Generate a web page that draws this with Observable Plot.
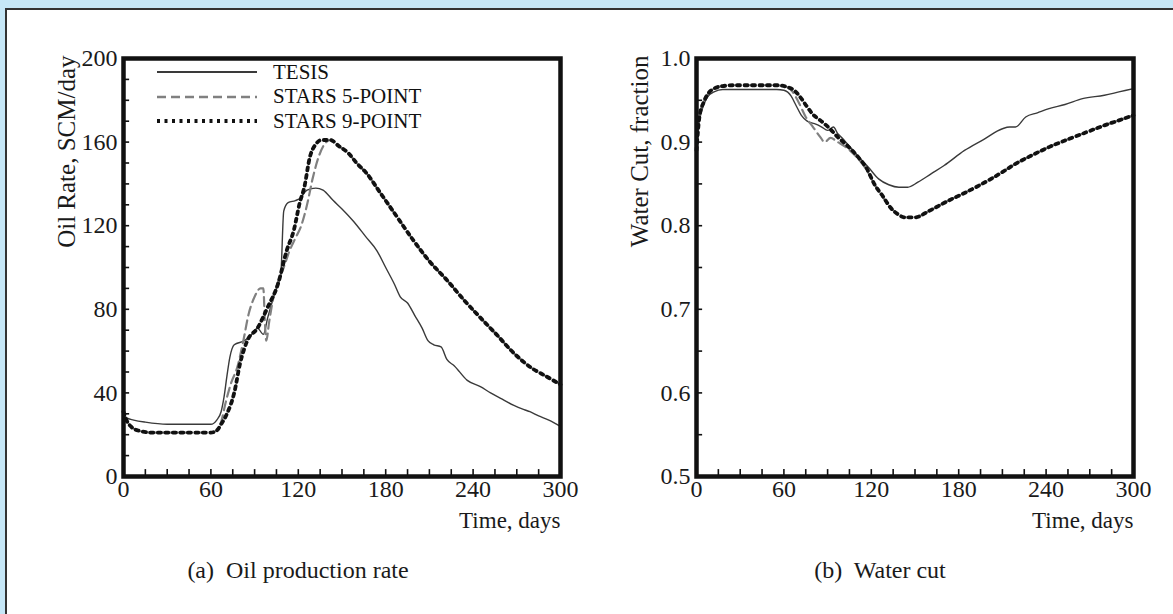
<!DOCTYPE html>
<html>
<head>
<meta charset="utf-8">
<script src="https://cdn.jsdelivr.net/npm/d3@7"></script>
<script src="https://cdn.jsdelivr.net/npm/@observablehq/plot@0.6"></script>
<style>
  html, body { margin: 0; padding: 0; background: #c6e7f7; }
  #page { position: relative; width: 1173px; height: 614px; overflow: hidden; background: #c6e7f7; }
  #box { position: absolute; left: 5px; top: 8px; width: 1200px; height: 640px; background: #fff;
         border-left: 2px solid #333; border-top: 2px solid #333; }
  .panel { position: absolute; top: 0; }
  .caption { position: absolute; font-family: "Liberation Serif", "DejaVu Serif", serif; font-size: 24px; color: #1a1a1a;
             transform: translateX(-50%); white-space: nowrap; }
  #legend { position: absolute; left: 157px; top: 60px; font-family: "Liberation Serif", serif; font-size: 21px; color: #111; }
  #legend .row { display: flex; align-items: center; height: 24.5px; }
  #legend svg { width: 100px; height: 12px; margin-right: 16px; }
</style>
</head>
<body>
<div id="page">
  <div id="box"></div>
  <div id="p1" class="panel" style="left:0px"></div>
  <div id="p2" class="panel" style="left:573px"></div>
  <div id="legend"></div>
  <div class="caption" style="left:298px; top:557px">(a)&nbsp; Oil production rate</div>
  <div class="caption" style="left:880px; top:557px">(b)&nbsp; Water cut</div>
</div>
<script>
// ---------- data ----------
const seriesNames = ["TESIS", "STARS 5-POINT", "STARS 9-POINT"];

// Oil rate (SCM/day) vs time (days)
const oilTesisT = [0,2,7,15,30,45,60,64,67,69,71,73,76,83,88,92,96,99,101,105,108,110,113,118,121,126,132,137,144,150,158,166,174,180,186,190,195,200,205,209,213,218,222,227,236,245,252,260,268,275,279,285,292,300];
const oilTesisV = [32,28,27,26,25,25,25,27,31,38,48,57,63,65,68,71,68,76,81,90,97,127,131,132,133,137,138,137,132,128,122,115,108,100,92,86,83,77,71,65,63,62,56,53,46,43,40,37,34,32,31,29,27,24];

const oil5T = [0,2,5,10,20,40,60,64,67,70,74,78,82,86,90,94,96,97,98,100,103,106,110,114,118,122,126,130,134,138,142,148,154,160,167,176,185,199,210,222,233,245,256,268,280,290,300];
const oil5V = [31,27,24,22,21,21,21,22,26,35,45,52,64,78,86,90,90,75,65,74,86,93,100,108,114,120,130,143,153,159,161,158,155,150,145,136,127,113,103,94,85,76,68,59,52,48,44];

const oil9T = [0,2,5,10,20,40,60,64,67,71,76,80,85,92,99,106,112,117,121,124,128,132,136,142,148,154,160,167,176,185,199,210,222,233,245,256,268,280,290,300];
const oil9V = [31,27,24,22,21,21,21,22,25,30,40,54,65,71,81,92,108,118,131,138,153,159,161,161,158,155,150,145,136,127,113,103,94,85,76,68,59,52,48,44];

// Water cut (fraction) vs time (days)
const wcTesisT = [0,2,5,8,12,18,25,40,55,60,65,68,72,76,81,86,90,94,97,100,104,110,118,125,132,139,145,152,161,170,184,197,210,215,219,226,234,242,253,265,280,290,300];
const wcTesisV = [0.895,0.925,0.945,0.955,0.96,0.963,0.963,0.963,0.963,0.962,0.955,0.945,0.932,0.925,0.922,0.918,0.914,0.918,0.91,0.905,0.897,0.885,0.87,0.856,0.849,0.846,0.846,0.852,0.862,0.872,0.89,0.903,0.916,0.918,0.918,0.93,0.935,0.94,0.945,0.952,0.956,0.96,0.964];

const wc5T = [0,2,5,8,12,18,25,40,55,62,66,70,75,80,85,88,92,97,104,111,117,122,128,133,138,143,150,160,173,185,196,208,219,230,242,253,265,280,290,300];
const wc5V = [0.89,0.93,0.948,0.958,0.964,0.967,0.968,0.968,0.968,0.966,0.96,0.948,0.93,0.918,0.906,0.9,0.905,0.9,0.892,0.88,0.866,0.85,0.834,0.822,0.814,0.81,0.81,0.818,0.83,0.84,0.85,0.862,0.874,0.884,0.894,0.902,0.91,0.92,0.926,0.932];

const wc9T = [0,2,5,8,12,18,25,40,55,62,67,72,76,80,85,91,97,104,111,117,122,128,133,138,143,150,160,173,185,196,208,219,230,242,253,265,280,290,300];
const wc9V = [0.89,0.93,0.948,0.958,0.964,0.967,0.968,0.968,0.968,0.966,0.962,0.952,0.942,0.933,0.926,0.917,0.906,0.895,0.882,0.868,0.85,0.835,0.822,0.814,0.81,0.81,0.818,0.83,0.84,0.85,0.862,0.874,0.884,0.894,0.902,0.91,0.92,0.926,0.932];

// ticks
const xLabelTicks = [0,60,120,180,240,300];
const xMinorTicks = d3.range(15, 300, 15);
const oilLabelTicks = [0,40,80,120,160,200];
const oilMinorTicks = d3.range(10, 200, 10);
const wcLabelTicks = [0.5,0.6,0.7,0.8,0.9,1.0];
const wcMinorTicks = [0.55,0.6,0.65,0.7,0.75,0.8,0.85,0.9,0.95];

// ---------- styles ----------
const styles = {
  "TESIS": {stroke: "#3a3a3a", strokeWidth: 1.4},
  "STARS 5-POINT": {stroke: "#808080", strokeWidth: 2.2, strokeDasharray: "9,5"},
  "STARS 9-POINT": {stroke: "#111", strokeWidth: 3.8, strokeDasharray: "3,4.5"}
};
const font = "Liberation Serif, DejaVu Serif, serif";

function zip(T, V) { return T.map((t, i) => ({t, v: V[i]})); }

function panel({series, yDomain, yLabelTicks, yMinor, yFormat, yLabel, tickLenY, tickLenX}) {
  return Plot.plot({
    width: 600, height: 614,
    marginTop: 58, marginBottom: 138, marginLeft: 123, marginRight: 40,
    style: {fontFamily: font, fontSize: "24px", color: "#1a1a1a", background: "transparent", overflow: "visible"},
    x: {domain: [0, 300]},
    y: {domain: yDomain},
    marks: [
      Plot.ruleY(yMinor, {x1: 0, x2: tickLenX, stroke: "#111", strokeWidth: 1.6}),
      Plot.ruleX(xMinorTicks, {y1: yDomain[0], y2: yDomain[0] + tickLenY, stroke: "#111", strokeWidth: 1.6}),
      ...series.map(([name, T, V]) => Plot.line(zip(T, V), {x: "t", y: "v", curve: "monotone-x", ...styles[name]})),
      Plot.frame({stroke: "#111", strokeWidth: 4.5}),
      Plot.axisX(xLabelTicks, {tickSize: 0, tickPadding: 3, label: null}),
      Plot.axisY(yLabelTicks, {tickSize: 0, tickPadding: 6, label: null, tickFormat: yFormat}),
      Plot.text([yLabel], {frameAnchor: "top-left", rotate: -90, textAnchor: "end", dx: -66, dy: -3, fontSize: 25, fill: "#1a1a1a"}),
      Plot.text(["Time, days"], {frameAnchor: "bottom-right", textAnchor: "end", dy: 51, fontSize: 23, fill: "#1a1a1a"})
    ]
  });
}

document.getElementById("p1").append(panel({
  series: [["TESIS", oilTesisT, oilTesisV], ["STARS 5-POINT", oil5T, oil5V], ["STARS 9-POINT", oil9T, oil9V]],
  yDomain: [0, 200], yLabelTicks: oilLabelTicks, yMinor: oilMinorTicks, yFormat: d3.format("d"),
  yLabel: "Oil Rate, SCM/day", tickLenY: 3.3, tickLenX: 4.2
}));
document.getElementById("p2").append(panel({
  series: [["TESIS", wcTesisT, wcTesisV], ["STARS 5-POINT", wc5T, wc5V], ["STARS 9-POINT", wc9T, wc9V]],
  yDomain: [0.5, 1.0], yLabelTicks: wcLabelTicks, yMinor: wcMinorTicks, yFormat: d3.format(".1f"),
  yLabel: "Water Cut, fraction", tickLenY: 0.0083, tickLenX: 4.2
}));

// legend
const legend = document.getElementById("legend");
for (const name of seriesNames) {
  const s = styles[name];
  const row = document.createElement("div");
  row.className = "row";
  row.innerHTML = `<svg viewBox="0 0 100 12"><line x1="0" y1="6" x2="100" y2="6" stroke="${s.stroke}" stroke-width="${s.strokeWidth + 0.4}" stroke-dasharray="${s.strokeDasharray || ""}"/></svg><span>${name}</span>`;
  legend.append(row);
}
</script>
</body>
</html>
